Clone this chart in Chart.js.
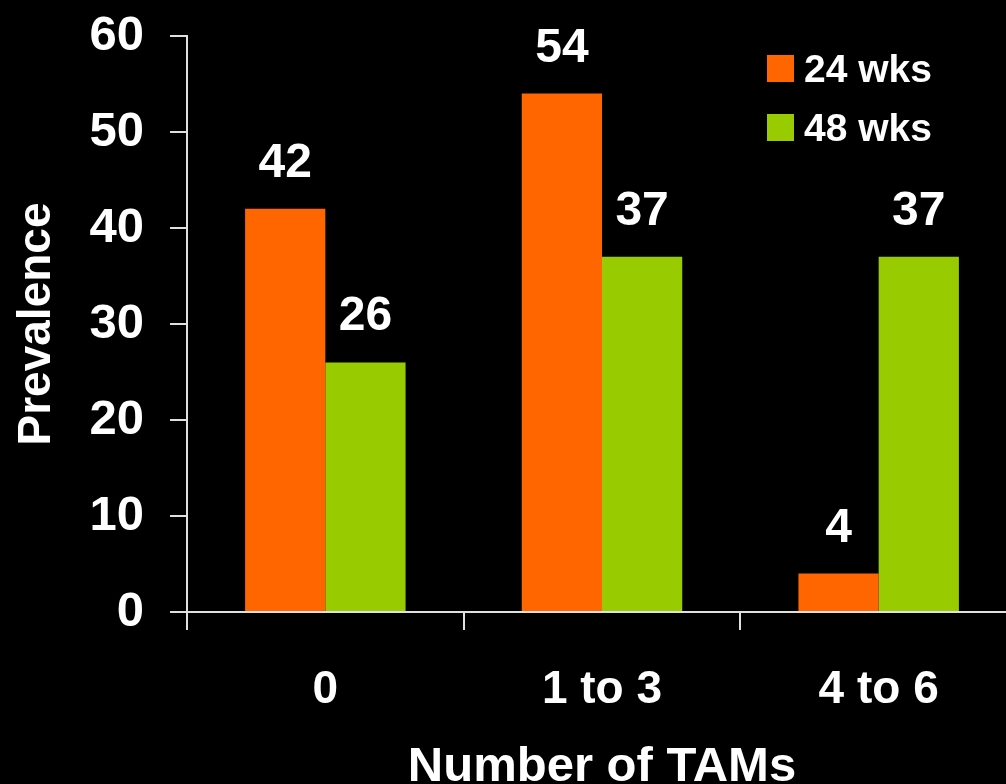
<!DOCTYPE html>
<html>
<head>
<meta charset="utf-8">
<script src="https://cdn.jsdelivr.net/npm/chart.js@4.4.0/dist/chart.umd.min.js"></script>
<style>
  html, body { margin: 0; padding: 0; background: #000; overflow: hidden; width: 1006px; height: 784px; }
  canvas { display: block; }
</style>
</head>
<body>
<canvas id="c" width="1020" height="800"></canvas>
<script>
const categories = ['0', '1 to 3', '4 to 6'];
const seriesNames = ['24 wks', '48 wks'];
const wk24 = [42, 54, 4];
const wk48 = [26, 37, 37];
const yTicks = [0, 10, 20, 30, 40, 50, 60];

const FONT = "'Liberation Sans', Arial, sans-serif";
const AXIS = '#e0e0e0';

const bgPlugin = {
  id: 'bg',
  beforeDraw(chart) {
    const ctx = chart.ctx;
    ctx.save();
    ctx.fillStyle = '#000';
    ctx.fillRect(0, 0, chart.width, chart.height);
    ctx.restore();
  }
};

const valueLabels = {
  id: 'valueLabels',
  afterDatasetsDraw(chart) {
    const ctx = chart.ctx;
    ctx.save();
    ctx.fillStyle = '#fff';
    ctx.font = 'bold 48px ' + FONT;
    ctx.textAlign = 'center';
    ctx.textBaseline = 'alphabetic';
    chart.data.datasets.forEach((ds, di) => {
      chart.getDatasetMeta(di).data.forEach((bar, i) => {
        ctx.fillText(String(ds.data[i]), bar.x, bar.y - 32);
      });
    });
    ctx.restore();
  }
};

const customLegend = {
  id: 'customLegend',
  afterDraw(chart) {
    const ctx = chart.ctx;
    ctx.save();
    ctx.font = 'bold 39px ' + FONT;
    ctx.textAlign = 'left';
    ctx.textBaseline = 'alphabetic';
    chart.data.datasets.forEach((ds, i) => {
      const y = 55 + i * 59;
      ctx.fillStyle = ds.backgroundColor;
      ctx.fillRect(767, y, 27, 27);
      ctx.fillStyle = '#fff';
      ctx.fillText(ds.label, 804, y + 27);
    });
    ctx.restore();
  }
};

new Chart(document.getElementById('c'), {
  type: 'bar',
  data: {
    labels: categories,
    datasets: [
      { label: seriesNames[0], data: wk24, backgroundColor: '#FF6600', borderWidth: 0 },
      { label: seriesNames[1], data: wk48, backgroundColor: '#99CC00', borderWidth: 0 }
    ]
  },
  options: {
    responsive: false,
    animation: false,
    devicePixelRatio: 1,
    layout: { padding: { top: 36, right: 3, left: 0, bottom: 0 } },
    datasets: { bar: { categoryPercentage: 0.58, barPercentage: 1.0 } },
    plugins: {
      legend: { display: false },
      tooltip: { enabled: false }
    },
    scales: {
      x: {
        grid: { display: true, offset: true, drawOnChartArea: false, drawTicks: true, tickLength: 18, color: AXIS, lineWidth: 2 },
        border: { display: true, color: AXIS, width: 2 },
        ticks: { color: '#fff', font: { family: FONT, size: 46, weight: 'bold' }, padding: 33, maxRotation: 0 },
        title: { display: true, text: 'Number of TAMs', color: '#fff', font: { family: FONT, size: 49, weight: 'bold', lineHeight: 1 }, padding: { top: 0, bottom: 8 } },
        afterFit(scale) { scale.height = 188; scale.paddingLeft = 0; scale.paddingRight = 0; }
      },
      y: {
        min: 0, max: 60,
        afterBuildTicks(scale) { scale.ticks = yTicks.map(v => ({ value: v })); },
        grid: { display: true, drawOnChartArea: false, drawTicks: true, tickLength: 17, color: AXIS, lineWidth: 2 },
        border: { display: true, color: AXIS, width: 2 },
        ticks: { color: '#fff', font: { family: FONT, size: 49, weight: 'bold' }, padding: 26 },
        title: { display: true, text: 'Prevalence', color: '#fff', font: { family: FONT, size: 46, weight: 'bold' }, padding: { top: 10, bottom: 0 } },
        afterFit(scale) { scale.width = 187; scale.paddingTop = 0; scale.paddingBottom = 0; }
      }
    }
  },
  plugins: [bgPlugin, valueLabels, customLegend]
});
</script>
</body>
</html>
